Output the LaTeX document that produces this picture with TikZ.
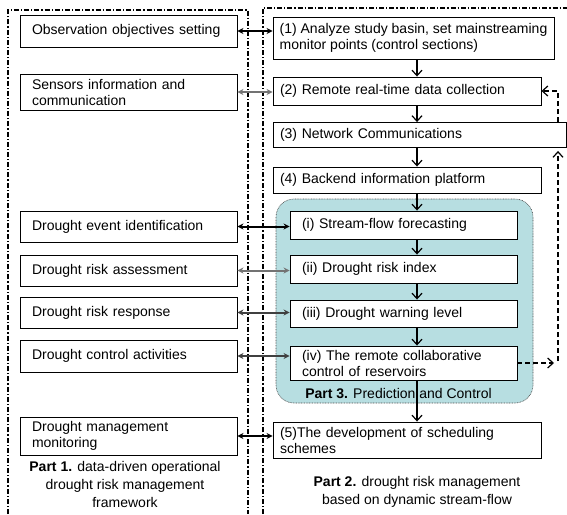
\documentclass[tikz,border=0pt]{standalone}
\usepackage{fontspec}
\setmainfont{Liberation Sans}
\usetikzlibrary{arrows.meta}
\definecolor{panelfill}{RGB}{183,222,225}
\definecolor{arrgray}{RGB}{115,115,115}
\tikzset{
  box/.style={draw=black, line width=0.9pt, fill=white, inner ysep=1pt, align=left,
    font=\fontsize{14}{16}\selectfont},
  lbox/.style={box, inner xsep=12pt, text width=193pt, minimum width=217pt},
  rbox/.style={box, inner xsep=7pt},
  ibox/.style={box, inner xsep=12pt, text width=203pt, minimum width=227pt},
  frame/.style={line width=1.1pt, dash pattern=on 5pt off 2pt on 1.2pt off 2pt},
  varrow/.style={line width=1.2pt, -{Straight Barb[length=5.5pt,width=10pt,line width=1.2pt]}},
  darrow/.style={line width=1.1pt, dash pattern=on 5pt off 3pt, -{Straight Barb[length=5.5pt,width=10pt,line width=1.2pt]}},
  harrow/.style={line width=2pt, {Stealth[length=6pt,width=6pt]}-{Stealth[length=6pt,width=6pt]}},
  lbl/.style={align=center, font=\fontsize{14}{18}\selectfont}
}
\begin{document}
\hyphenpenalty=10000
\exhyphenpenalty=10000
\begin{tikzpicture}[x=1pt,y=-1pt]
\useasboundingbox (0,0) rectangle (567,514);
% frames
\draw[frame] (8,514) -- (8,10) -- (248,10) -- (248,514);
\draw[frame] (263,514) -- (263,8) -- (570,8);
% panel
\draw[fill=panelfill, draw=black!70, line width=0.6pt, dash pattern=on 0.8pt off 0.8pt, rounded corners=18pt] (276,199) rectangle (533,403);
% left boxes
\node[lbox, minimum height=32pt] (obs) at (128.5,31) {Observation objectives setting};
\node[lbox, minimum height=36pt] (sens) at (128.5,92) {Sensors information and communication};
\node[lbox, minimum height=31pt] (event) at (128.5,226.5) {Drought event identification};
\node[lbox, minimum height=31pt] (assess) at (128.5,270.5) {Drought risk assessment};
\node[lbox, minimum height=31pt] (resp) at (128.5,312.5) {Drought risk response};
\node[lbox, minimum height=32pt] (ctrl) at (128.5,356) {Drought control activities};
\node[lbox, minimum height=38pt] (mon) at (128.5,436) {Drought management monitoring};
% right boxes
\node[rbox, inner xsep=5pt, minimum width=281pt, minimum height=42pt] (b1) at (413.5,38) {(1) Analyze study basin, set mainstreaming\\monitor points (control sections)};
\node[rbox, text width=254pt, minimum width=268pt, minimum height=28pt] (b2) at (407,91) {(2) Remote real-time data collection};
\node[rbox, text width=279pt, minimum width=293pt, minimum height=25pt] (b3) at (419.5,135) {(3) Network Communications};
\node[rbox, text width=254pt, minimum width=268pt, minimum height=26pt] (b4) at (407,180) {(4) Backend information platform};
\node[ibox, minimum height=28pt] (bi) at (403.5,225) {(i) Stream-flow forecasting};
\node[ibox, minimum height=28pt] (bii) at (403.5,269) {(ii) Drought risk index};
\node[ibox, minimum height=27pt] (biii) at (403.5,313.5) {(iii) Drought warning level};
\node[ibox, minimum height=34pt] (biv) at (403.5,363) {(iv) The remote collaborative control of reservoirs};
\node[rbox, text width=254pt, minimum width=268pt, minimum height=36pt] (b5) at (407,440) {(5)The development of scheduling schemes};
% labels
\node[lbl] (p3) at (398.5,393) {\textbf{Part 3.} Prediction and Control};
\node[lbl] (p2) at (417,492) {\textbf{Part 2.} drought risk management\\based on dynamic stream-flow};
\node[lbl] (p1) at (125,484) {\textbf{Part 1.} data-driven operational\\drought risk management\\framework};
% vertical arrows
\coordinate (ax) at (417,0);
\draw[varrow] (b1.south -| ax) -- (b2.north -| ax);
\draw[varrow] (b2.south -| ax) -- (b3.north -| ax);
\draw[varrow] (b3.south -| ax) -- (b4.north -| ax);
\draw[varrow] (b4.south -| ax) -- (bi.north -| ax);
\draw[varrow] (bi.south -| ax) -- (bii.north -| ax);
\draw[varrow] (bii.south -| ax) -- (biii.north -| ax);
\draw[varrow] (biii.south -| ax) -- (biv.north -| ax);
\draw[varrow] (biv.south -| ax) -- (b5.north -| ax);
% horizontal double arrows
\draw[harrow, black] (obs.east) -- (obs.east -| b1.west);
\draw[harrow, arrgray] (sens.east) -- (sens.east -| b2.west);
\draw[harrow, black] (event.east) -- (event.east -| bi.west);
\draw[harrow, arrgray] (assess.east) -- (assess.east -| bii.west);
\draw[harrow, black!75] (resp.east) -- (resp.east -| biii.west);
\draw[harrow, black!75] (ctrl.east) -- (ctrl.east -| biv.west);
\draw[harrow, black] (mon.east) -- (mon.east -| b5.west);
% dashed feedback
\coordinate (dxa) at (554,0);
\coordinate (dxb) at (558,0);
\draw[darrow] (biv.east) -- (biv.east -| dxa);
\draw[darrow] ([yshift=2pt]biv.east -| dxb) -- ([yshift=-3pt]b3.south -| dxb);
\draw[darrow] (b3.north -| dxb) |- (b2.east);
\end{tikzpicture}
\end{document}
